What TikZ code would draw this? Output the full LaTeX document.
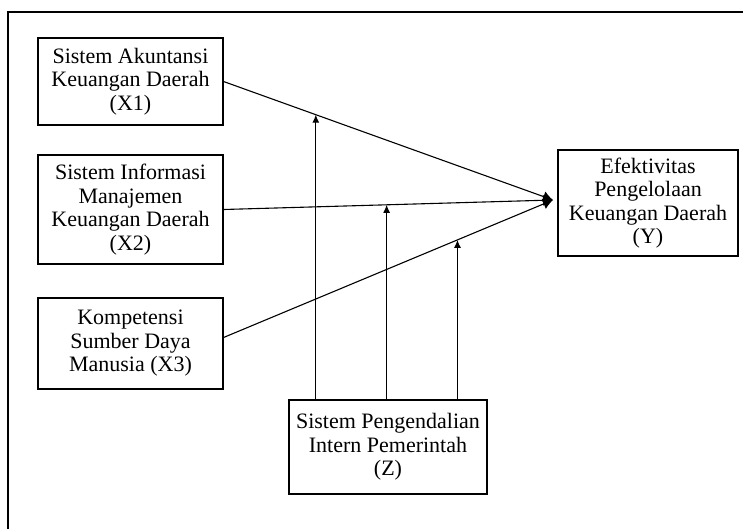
\documentclass[tikz,border=0pt]{standalone}
\usepackage{fontspec}
\setmainfont{Liberation Serif}
\usetikzlibrary{arrows.meta}

\tikzset{
  var/.style={draw, line width=1.1pt, align=center, inner sep=0pt,
    font=\fontsize{22}{23.5}\selectfont},
  link/.style={line width=1.1pt, -{Latex[length=10pt,width=11pt]}},
  moder/.style={line width=1.1pt, -{Latex[length=8pt,width=7pt]}}
}

\begin{document}
\begin{tikzpicture}[x=1pt,y=-1pt]
  \useasboundingbox (0,0) rectangle (743,528);
  \clip (0,0) rectangle (743,528);
  \draw[line width=1.4pt] (8,12) rectangle (790,570);

  \node[var, minimum width=185pt, minimum height=87pt] (x1) at (130.5,81.5)
    {Sistem Akuntansi\\Keuangan Daerah\\(X1)};
  \node[var, minimum width=185pt, minimum height=109pt] (x2) at (130.5,209.5)
    {Sistem Informasi\\Manajemen\\Keuangan Daerah\\(X2)};
  \node[var, minimum width=185pt, minimum height=91pt] (x3) at (130.5,343.5)
    {Kompetensi\\Sumber Daya\\Manusia (X3)};
  \node[var, minimum width=180pt, minimum height=106pt] (y) at (648,203)
    {Efektivitas\\Pengelolaan\\Keuangan Daerah\\(Y)};
  \node[var, minimum width=198pt, minimum height=94pt] (z) at (388,447)
    {Sistem Pengendalian\\Intern Pemerintah\\(Z)};

  \coordinate (hub) at (553,200);
  \path[link]
    (x1.east) edge (hub)
    (x2.east) edge (hub)
    ([yshift=6pt]x3.east) edge (hub);

  \path (x1.east) -- (hub) coordinate[pos=0.28] (m1);
  \path (x2.east) -- (hub) coordinate[pos=0.495] (m2);
  \path ([yshift=6pt]x3.east) -- (hub) coordinate[pos=0.71] (m3);
  \path[moder]
    (m1 |- z.north) edge (m1)
    (m2 |- z.north) edge (m2)
    (m3 |- z.north) edge (m3);
\end{tikzpicture}
\end{document}
